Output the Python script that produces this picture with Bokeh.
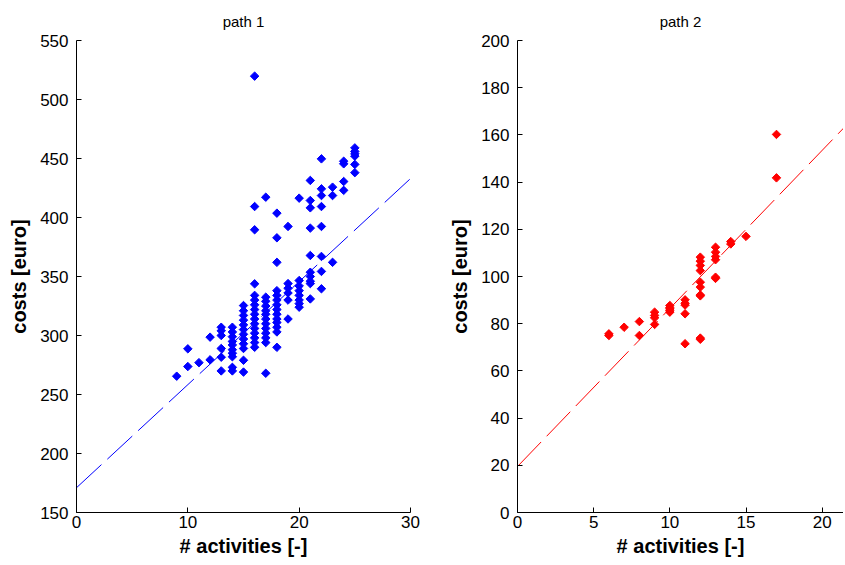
from bokeh.plotting import figure
from bokeh.layouts import row
from bokeh.models import Range1d, FixedTicker
from bokeh.embed import file_html
from bokeh.resources import INLINE

# ---------------- data ----------------
# path 1: (# activities, costs)
p1_counts = [9, 10, 11, 12, 13, 14, 15, 16, 17, 18, 19, 20, 21, 22, 23, 24, 25]
p1_costs = [
    [265.5],
    [288.7, 273.7],
    [277.0],
    [298.6, 279.4],
    [307, 304, 300, 289, 281.6, 270],
    [307, 303, 299, 295, 292, 288, 285, 282, 273, 270],
    [325.4, 321, 317, 313, 309, 305, 301, 297, 293, 289, 279, 269],
    [519.8, 409.3, 389.6, 343.8, 334, 330, 326, 322, 318, 314, 310, 306, 302, 298, 294, 290],
    [417.2, 332.5, 329, 325, 321, 318, 314, 310, 306, 302, 298, 294, 268],
    [403.7, 382.8, 362, 338, 334, 330, 326, 322, 318, 314, 311, 307, 303, 290],
    [392.4, 344, 340, 336, 330, 314],
    [416.4, 346.6, 342, 338, 334, 330, 327, 324],
    [431.4, 414.4, 408.2, 391, 367.8, 353.6, 350, 346, 344, 331],
    [449.7, 424.3, 418.6, 409.3, 392.4, 367, 354.3, 339.6],
    [425.7, 418.6, 362],
    [447.7, 445.5, 430.5, 423],
    [459, 456, 454, 452, 445, 438],
]
p1_fit_x = [0, 30]
p1_fit_y = [171, 433]

# path 2: (# activities, costs)
p2_counts = [6, 7, 8, 9, 10, 11, 12, 13, 14, 15, 17]
p2_costs = [
    [75.7, 75.0],
    [78.5],
    [80.9, 75.0],
    [84.9, 83.5, 82.5, 79.7],
    [87.7, 86.8, 86.3, 85.6, 84.9],
    [90.1, 88.7, 87.9, 84.2, 71.5],
    [108.2, 106.5, 104.7, 102.5, 97.6, 95.5, 92.2, 91.8, 73.9, 73.4],
    [112.4, 110.3, 108.5, 107.1, 99.7, 99.2],
    [114.8, 113.8],
    [117.0],
    [160.2, 141.8],
]
p2_fit_x = [0, 21.5]
p2_fit_y = [19.5, 163.5]

p1_xticks = [0, 10, 20, 30]
p1_yticks = [150, 200, 250, 300, 350, 400, 450, 500, 550]
p2_xticks = [0, 5, 10, 15, 20]
p2_yticks = [0, 20, 40, 60, 80, 100, 120, 140, 160, 180, 200]


def flatten(counts, costs):
    xs, ys = [], []
    for c, vals in zip(counts, costs):
        for v in vals:
            xs.append(c)
            ys.append(v)
    return xs, ys


FONT = "Liberation Sans"


def make_fig(title, width, xr, yr, xticks, yticks, mb_left, mb_right):
    p = figure(width=width, height=565, title=title,
               x_range=Range1d(*xr), y_range=Range1d(*yr),
               output_backend="svg", toolbar_location=None,
               min_border_left=mb_left, min_border_right=mb_right,
               min_border_top=40, min_border_bottom=53)
    p.outline_line_color = None
    p.xgrid.visible = False
    p.ygrid.visible = False
    p.title.align = "center"
    p.title.vertical_align = "top"
    p.title.text_font = FONT
    p.title.text_font_style = "normal"
    p.title.text_font_size = "15px"
    p.title.text_color = "black"
    p.title.standoff = 18
    for ax, ticks in ((p.xaxis[0], xticks), (p.yaxis[0], yticks)):
        ax.ticker = FixedTicker(ticks=ticks)
        ax.major_tick_in = 5
        ax.major_tick_out = 0
        ax.minor_tick_in = 0
        ax.minor_tick_out = 0
        ax.axis_line_color = "black"
        ax.major_tick_line_color = "black"
        ax.major_label_text_font = FONT
        ax.major_label_text_font_size = "17px"
        ax.major_label_text_color = "black"
        ax.axis_label_text_font = FONT
        ax.axis_label_text_font_style = "bold"
        ax.axis_label_text_font_size = "20px"
        ax.axis_label_text_color = "black"
    p.xaxis.axis_label = "# activities [-]"
    p.yaxis.axis_label = "costs [euro]"
    p.xaxis.major_label_standoff = 3
    p.xaxis.axis_label_standoff = 4
    p.yaxis.major_label_standoff = 8
    p.yaxis.axis_label_standoff = 7
    return p


p1 = make_fig("path 1", 438, (0, 30), (150, 550), p1_xticks, p1_yticks, 76, 28)
x1, y1 = flatten(p1_counts, p1_costs)
p1.line(p1_fit_x, p1_fit_y, line_color="blue", line_width=1, line_dash="34 8")
p1.scatter(x1, y1, marker="square", angle=0.785, size=6, fill_color="blue", line_color="blue")

p2 = make_fig("path 2", 405, (0, 21.4), (0, 200), p2_xticks, p2_yticks, 79, 0)
x2, y2 = flatten(p2_counts, p2_costs)
p2.line(p2_fit_x, p2_fit_y, line_color="red", line_width=1, line_dash="34 8")
p2.scatter(x2, y2, marker="square", angle=0.785, size=6, fill_color="red", line_color="red")

layout = row(p1, p2)
open("out.html", "w").write(file_html(layout, INLINE))
